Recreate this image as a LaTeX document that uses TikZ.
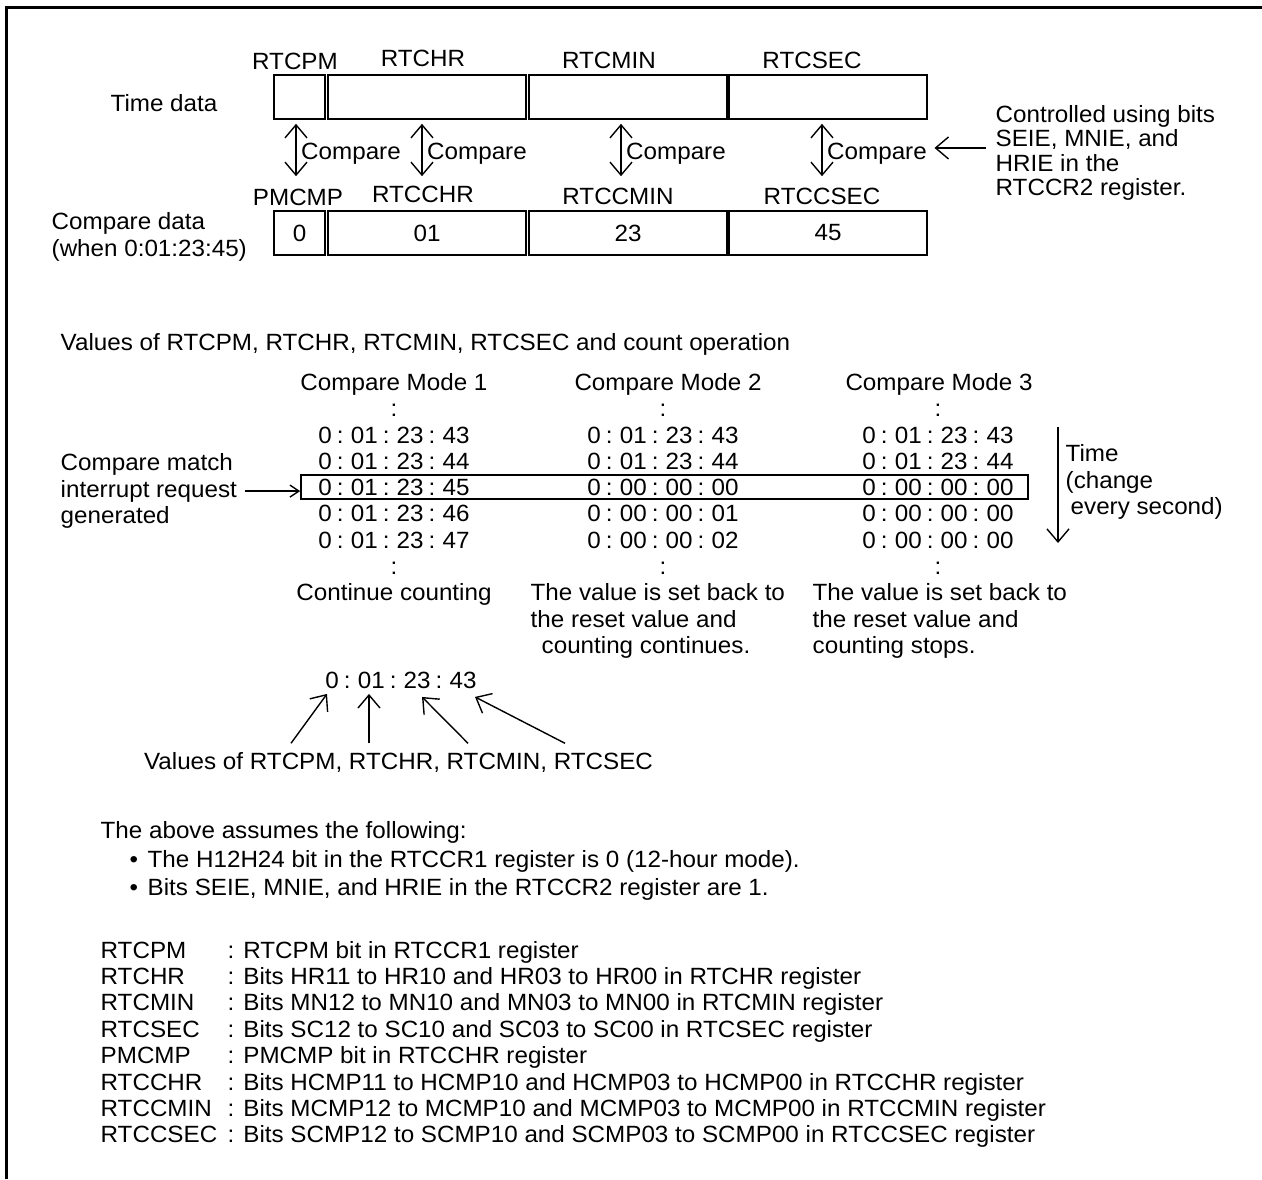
\documentclass[tikz,border=0pt]{standalone}
\usepackage{fontspec}
\setmainfont{Liberation Sans}[FakeStretch=1.03]
\usetikzlibrary{
  calc,
  positioning,
  arrows.meta}
\newcommand{\tvspace}{\spaceskip=5pt\relax}

\begin{document}
\begin{tikzpicture}[
  x=1pt,y=-1pt,
  >={Straight Barb[length=13pt,width=22pt]},
  line width=1.4pt,
  every node/.style={font=\fontsize{23.5}{26.4}\selectfont,inner sep=0pt},
  regbox/.style={draw,line width=1.6pt,minimum height=44pt},
  txt/.style={anchor=base},
  txtw/.style={anchor=base west},
  block/.style={anchor=north west,align=left},
  smallhead/.style={-{Straight Barb[length=9pt,width=12pt]}}
]%
  \useasboundingbox (0,0) rectangle (1262,1179);
  \draw[line width=3pt] (6,1179) -- (6,7.5) -- (1262,7.5);

  % registers
  \node (tlbl) at (164,103) {Time data};
  \node[block,font=\fontsize{23.5}{27}\selectfont] (clbl) at (51,212) {Compare data\\(when 0:01:23:45)};

  \node[regbox,minimum width=51pt] (tpm) at (299.5,97) {};
  \node[regbox,minimum width=198pt] (thr) at (427,97) {};
  \node[regbox,minimum width=198pt] (tmin) at (628,97) {};
  \node[regbox,minimum width=198pt] (tsec) at (828,97) {};
  \node[regbox,minimum width=51pt] (cpm) at (299.5,233) {0};
  \node[regbox,minimum width=198pt] (chr) at (427,233) {01};
  \node[regbox,minimum width=198pt] (cmin) at (628,233) {23};
  \node[regbox,minimum width=198pt] (csec) at (828,233) {45};

  \node[txt] (ltpm) at (295,69) {RTCPM};
  \node[txt] (lthr) at (423,66) {RTCHR};
  \node[txt] (ltmin) at (609,68) {RTCMIN};
  \node[txt] (ltsec) at (812,68) {RTCSEC};
  \node[txt] (lcpm) at (298,205) {PMCMP};
  \node[txt] (lchr) at (423,202) {RTCCHR};
  \node[txt] (lcmin) at (618,204) {RTCCMIN};
  \node[txt] (lcsec) at (822,204) {RTCCSEC};

  \foreach \up/\lo/\dx [count=\i] in {tpm/cpm/-3.5, thr/chr/-5, tmin/cmin/-7, tsec/csec/-6} {
    \draw[<->] ($(\up.south)+(\dx,4)$) -- ($(\lo.north)+(\dx,-34)$);
    \node[txtw] (cmp\i) at ($(\up.south)+({\dx+4.5},40)$) {Compare};
  }

  \node[block,font=\fontsize{23.5}{24.2}\selectfont] (ctl) at (995,105)
    {Controlled using bits\\SEIE, MNIE, and\\HRIE in the\\RTCCR2 register.};
  \draw[->,shorten <=9pt,shorten >=7pt] ([yshift=5pt]ctl.west) -- ([yshift=5pt]ctl.west -| cmp4.east);

  % count operation
  \node[txtw] (vals) at (60,350) {Values of RTCPM, RTCHR, RTCMIN, RTCSEC and count operation};
  \node[txt] (mode1) at (394,390) {Compare Mode 1};
  \node[txt] (mode2) at (668,390) {Compare Mode 2};
  \node[txt] (mode3) at (939,390) {Compare Mode 3};

  \node[draw,line width=1.6pt,minimum width=727pt,minimum height=24pt] (hl) at (664.5,487) {};

  \foreach \cx/\nm in {394/a, 663/b, 938/c} {
    \node[txt] (top\nm) at (\cx,416.5) {:};
    \node[txt] (bot\nm) at (\cx,574) {:};
  }
  \foreach \va/\vb/\vc [count=\i] in {
    0 : 01 : 23 : 43/0 : 01 : 23 : 43/0 : 01 : 23 : 43,
    0 : 01 : 23 : 44/0 : 01 : 23 : 44/0 : 01 : 23 : 44,
    0 : 01 : 23 : 45/0 : 00 : 00 : 00/0 : 00 : 00 : 00,
    0 : 01 : 23 : 46/0 : 00 : 00 : 01/0 : 00 : 00 : 00,
    0 : 01 : 23 : 47/0 : 00 : 00 : 02/0 : 00 : 00 : 00} {
    \node[txt] (ra\i) at (394,{443+26.3*(\i-1)}) {\tvspace\va};
    \node[txt] (rb\i) at (663,{443+26.3*(\i-1)}) {\tvspace\vb};
    \node[txt] (rc\i) at (938,{443+26.3*(\i-1)}) {\tvspace\vc};
  }

  \node[block] (cmi) at (60,453) {Compare match\\interrupt request\\generated};
  \draw[smallhead] ([xshift=7pt]cmi.east) -- (cmi.east -| hl.west);

  \coordinate (ttop) at (1058,427);
  \coordinate (tbot) at (1058,543);
  \draw[->] (ttop) -- (tbot);
  \node[block] (tlab) at (1065,444) {Time\\(change\\\hspace*{5pt}every second)};

  \node[anchor=north] (res1) at (394,583) {Continue counting};
  \node[block] (res2) at (530,583) {The value is set back to\\the reset value and\\\hspace*{11pt}counting continues.};
  \node[block] (res3) at (812,583) {The value is set back to\\the reset value and\\counting stops.};

  % example value
  \node[txt] (ex) at (401,688) {\tvspace 0 : 01 : 23 : 43};
  \node (vl) at (398.5,762) {Values of RTCPM, RTCHR, RTCMIN, RTCSEC};
  \foreach \tx/\hx/\hy in {-107.5/-74/5, -29.5/-32/5, 69.5/21/8, 166.5/74/8}
    \draw[->] ($(vl.north)+(\tx,-8)$) -- ($(ex.south)+(\hx,\hy)$);

  % notes
  \node[txtw] (assume) at (100,838) {The above assumes the following:};
  \node[txtw] (note1) at (129,867) {\makebox[18pt][l]{•}The H12H24 bit in the RTCCR1 register is 0 (12-hour mode).};
  \node[txtw] (note2) at (129,895) {\makebox[18pt][l]{•}Bits SEIE, MNIE, and HRIE in the RTCCR2 register are 1.};

  \foreach \reg/\desc [count=\i] in {
    RTCPM/RTCPM bit in RTCCR1 register,
    RTCHR/Bits HR11 to HR10 and HR03 to HR00 in RTCHR register,
    RTCMIN/Bits MN12 to MN10 and MN03 to MN00 in RTCMIN register,
    RTCSEC/Bits SC12 to SC10 and SC03 to SC00 in RTCSEC register,
    PMCMP/PMCMP bit in RTCCHR register,
    RTCCHR/Bits HCMP11 to HCMP10 and HCMP03 to HCMP00 in RTCCHR register,
    RTCCMIN/Bits MCMP12 to MCMP10 and MCMP03 to MCMP00 in RTCCMIN register,
    RTCCSEC/Bits SCMP12 to SCMP10 and SCMP03 to SCMP00 in RTCCSEC register} {
    \node[txtw] (dn\i) at (100,{958+26.4*(\i-1)}) {\reg};
    \node[txtw] (dd\i) at (227,{958+26.4*(\i-1)}) {: \desc};
  }
\end{tikzpicture}
\end{document}
